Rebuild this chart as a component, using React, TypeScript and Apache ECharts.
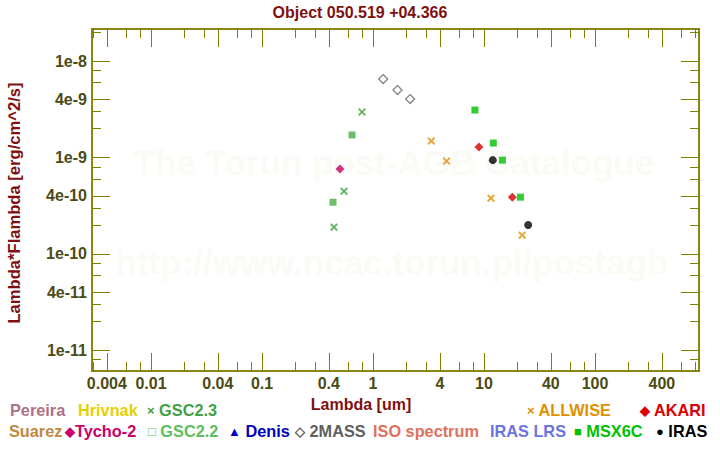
import React, { useEffect, useRef } from "react";
import * as echarts from "echarts";

// ---- data (wavelength in um, lambda*F_lambda in erg/cm^2/s) ----
const gsc23Lambda = [0.445, 0.548, 0.796];
const gsc23Flux = [1.89e-10, 4.47e-10, 2.96e-9];
const gsc22Lambda = [0.436, 0.647];
const gsc22Flux = [3.43e-10, 1.71e-9];
const tycho2Lambda = [0.504];
const tycho2Flux = [7.57e-10];
const twoMassLambda = [1.235, 1.662, 2.159];
const twoMassFlux = [6.5e-9, 5.0e-9, 4.03e-9];
const allwiseLambda = [3.35, 4.6, 11.56, 22.08];
const allwiseFlux = [1.48e-9, 9.17e-10, 3.78e-10, 1.56e-10];
const msxLambda = [8.28, 12.13, 14.65, 21.3];
const msxFlux = [3.1e-9, 1.41e-9, 9.37e-10, 3.87e-10];
const akariLambda = [9.0, 18.0];
const akariFlux = [1.28e-9, 3.87e-10];
const irasLambda = [12, 25];
const irasFlux = [9.37e-10, 1.99e-10];

const xTickLabels = ["0.004", "0.01", "0.04", "0.1", "0.4", "1", "4", "10", "40", "100", "400"];
const yTickLabels = ["1e-8", "4e-9", "1e-9", "4e-10", "1e-10", "4e-11", "1e-11"];

const X_MIN = Math.log10(0.00294);
const X_MAX = Math.log10(865);
const Y_MIN = -11.215;
const Y_MAX = -7.668;

const OLIVE = "#808000";
const TICK_TXT = "#4b4b14";
const FONT = "'Liberation Sans', Arial, sans-serif";

function ticksFor(lo: number, hi: number, mults: number[]) {
  const out: number[] = [];
  for (let d = -14; d <= 4; d++) {
    for (const m of mults) {
      const v = Math.log10(m) + d;
      if (v >= lo && v <= hi) out.push(v);
    }
  }
  return out;
}

const pts = (xs: number[], ys: number[]) => xs.map((x, i) => [Math.log10(x), Math.log10(ys[i])]);

const CROSS = "path://M0,1.7 L1.7,0 L5,3.3 L8.3,0 L10,1.7 L6.7,5 L10,8.3 L8.3,10 L5,6.7 L1.7,10 L0,8.3 L3.3,5 Z";

export default function App() {
  const ref = useRef<HTMLDivElement>(null);
  useEffect(() => {
    document.body.style.margin = "0";
    const chart = echarts.init(ref.current!, null, { renderer: "svg" });

    const xMajor = xTickLabels.map((l) => Math.log10(Number(l)));
    const yMajor = yTickLabels.map((l) => Math.log10(Number(l)));
    const xMinor = ticksFor(X_MIN, X_MAX, [2, 3, 6, 8]);
    const yMinor = ticksFor(Y_MIN, Y_MAX, [2, 3, 6, 8]);

    const fmt = (labels: string[]) => (v: number) => {
      const f = labels.find((l) => Math.abs(Math.log10(Number(l)) - v) < 1e-6);
      return f ?? "";
    };

    const mkX = (position: string, vals: number[], len: number, labels: boolean) => ({
      type: "value",
      gridIndex: 0,
      position,
      min: X_MIN,
      max: X_MAX,
      axisLine: { show: true, onZero: false, lineStyle: { color: OLIVE, width: 1.5 } },
      axisTick: { show: true, inside: true, length: len, customValues: vals, lineStyle: { color: OLIVE, width: 1 } },
      axisLabel: labels
        ? {
            show: true,
            customValues: xMajor,
            formatter: fmt(xTickLabels),
            color: TICK_TXT,
            fontFamily: FONT,
            fontWeight: "bold",
            fontSize: 16,
            margin: 4,
          }
        : { show: false },
      splitLine: { show: false },
    });
    const mkY = (position: string, vals: number[], len: number, labels: boolean) => ({
      type: "value",
      gridIndex: 0,
      position,
      min: Y_MIN,
      max: Y_MAX,
      axisLine: { show: true, onZero: false, lineStyle: { color: OLIVE, width: 1.5 } },
      axisTick: { show: true, inside: true, length: len, customValues: vals, lineStyle: { color: OLIVE, width: 1 } },
      axisLabel: labels
        ? {
            show: true,
            customValues: yMajor,
            formatter: fmt(yTickLabels),
            color: TICK_TXT,
            fontFamily: FONT,
            fontWeight: "bold",
            fontSize: 16,
            margin: 5,
          }
        : { show: false },
      splitLine: { show: false },
    });

    const legendRow1 = 410;
    const legendRow2 = 431;
    const legendItems: [string, string, number, number][] = [
      ["Pereira", "#b07088", 10, legendRow1],
      ["Hrivnak", "#e6d000", 78, legendRow1],
      ["{s|×} GSC2.3", "#44a044", 147, legendRow1],
      ["{s|×} ALLWISE", "#e09000", 527, legendRow1],
      ["{s|◆} AKARI", "#dd0000", 640, legendRow1],
      ["Suarez", "#c08840", 9, legendRow2],
      ["{s|◆}Tycho-2", "#cc0066", 65, legendRow2],
      ["{s|□} GSC2.2", "#5cc05c", 148, legendRow2],
      ["{s|▲} Denis", "#0000c0", 228, legendRow2],
      ["{s|◇} 2MASS", "#606060", 295, legendRow2],
      ["ISO spectrum", "#e07060", 373, legendRow2],
      ["IRAS LRS", "#6a74e0", 490, legendRow2],
      ["{s|■} MSX6C", "#00c000", 574, legendRow2],
      ["{s|●} IRAS", "#000000", 656, legendRow2],
    ];

    const txt = (text: string, x: number, y: number, color: string, size: number) => ({
      type: "text",
      x,
      y,
      z: 10,
      style: {
        text,
        fill: color,
        font: `bold ${size}px ${FONT}`,
        textAlign: "center",
        textVerticalAlign: "middle",
      },
    });

    const graphics: any[] = [
      {
        type: "text",
        x: 394,
        y: 162,
        z: -10,
        silent: true,
        style: {
          text: "The Torun post-AGB Catalogue",
          fill: "#fbfaf4",
          font: `bold 35px ${FONT}`,
          textAlign: "center",
          textVerticalAlign: "middle",
        },
      },
      {
        type: "text",
        x: 392,
        y: 262,
        z: -10,
        silent: true,
        style: {
          text: "http://www.ncac.torun.pl/postagb",
          fill: "#fbfaf4",
          font: `bold 35px ${FONT}`,
          textAlign: "center",
          textVerticalAlign: "middle",
        },
      },
      txt("Object 050.519 +04.366", 360, 12, "#801010", 16),
      txt("Lambda [um]", 361, 404, "#801010", 16),
      {
        type: "text",
        x: 14,
        y: 203,
        rotation: Math.PI / 2,
        z: 10,
        style: {
          text: "Lambda*Flambda [erg/cm^2/s]",
          fill: "#801010",
          font: `bold 16.6px ${FONT}`,
          textAlign: "center",
          textVerticalAlign: "middle",
        },
      },
      ...legendItems.map(([t, c, x, y]) => ({
        type: "text",
        x,
        y,
        z: 10,
        style: {
          text: t,
          fill: c,
          font: `bold 16.3px ${FONT}`,
          textAlign: "left",
          textVerticalAlign: "middle",
          rich: { s: { fontSize: 13, fill: c, fontWeight: "bold", fontFamily: FONT } },
        },
      })),
    ];

    const sc = (name: string, xs: number[], ys: number[], symbol: string, size: number, itemStyle: any) => ({
      name,
      type: "scatter",
      xAxisIndex: 0,
      yAxisIndex: 0,
      data: pts(xs, ys),
      symbol,
      symbolSize: size,
      itemStyle,
      z: 5,
    });

    chart.setOption({
      animation: false,
      backgroundColor: "#ffffff",
      grid: { left: 92, right: 21, top: 29, bottom: 79, containLabel: false },
      xAxis: [
        mkX("bottom", xMajor, 18, true),
        mkX("bottom", xMinor, 9, false),
        mkX("top", xMajor, 18, false),
        mkX("top", xMinor, 9, false),
      ],
      yAxis: [
        mkY("left", yMajor, 18, true),
        mkY("left", yMinor, 9, false),
        mkY("right", yMajor, 18, false),
        mkY("right", yMinor, 9, false),
      ],
      graphic: graphics,
      series: [
        sc("GSC2.3", gsc23Lambda, gsc23Flux, CROSS, 8, { color: "#40a440" }),
        sc("GSC2.2", gsc22Lambda, gsc22Flux, "rect", 7, { color: "#48ac48" }),
        sc("Tycho-2", tycho2Lambda, tycho2Flux, "diamond", 9, { color: "#cc0066" }),
        sc("2MASS", twoMassLambda, twoMassFlux, "diamond", 9, {
          color: "#ffffff",
          borderColor: "#666666",
          borderWidth: 1.3,
        }),
        sc("ALLWISE", allwiseLambda, allwiseFlux, CROSS, 8, { color: "#e09000" }),
        sc("MSX6C", msxLambda, msxFlux, "rect", 7, { color: "#00c000" }),
        sc("AKARI", akariLambda, akariFlux, "diamond", 9, { color: "#d00000" }),
        sc("IRAS", irasLambda, irasFlux, "circle", 8, { color: "#000000" }),
      ],
    });
    return () => chart.dispose();
  }, []);
  return <div ref={ref} style={{ width: 720, height: 450 }} />;
}
